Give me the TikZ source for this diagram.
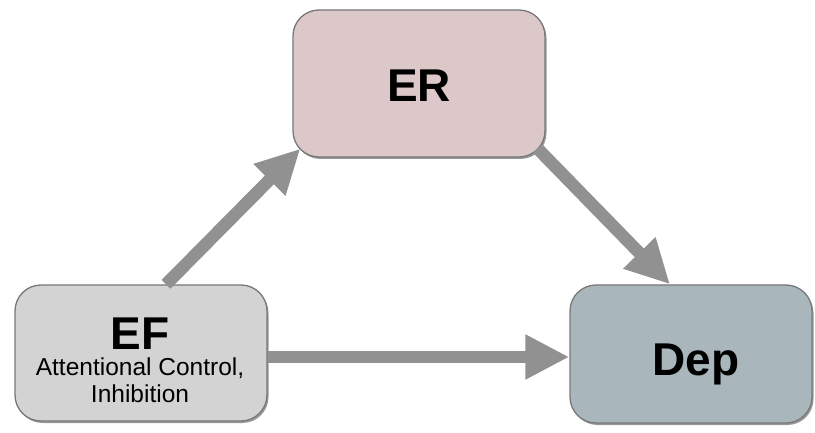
\documentclass[tikz,border=0pt]{standalone}
\usepackage{fontspec}
\setmainfont{Liberation Sans}
\usetikzlibrary{arrows.meta,shadows,calc}
\definecolor{efcol}{RGB}{211,211,211}
\definecolor{ercol}{RGB}{220,199,201}
\definecolor{depcol}{RGB}{169,183,188}
\definecolor{edgecol}{RGB}{120,120,120}
\definecolor{arrcol}{RGB}{145,145,145}
\tikzset{
  box/.style={draw=edgecol, line width=1.3pt, rounded corners=26pt, inner sep=0pt,
    drop shadow={shadow xshift=1.5pt, shadow yshift=-2pt, opacity=0.4, fill=black}},
  big/.style={font=\fontsize{46}{46}\selectfont\bfseries, anchor=base, inner sep=0pt},
  small/.style={font=\fontsize{24.5}{28}\selectfont, anchor=base, inner sep=0pt},
  arr/.style={draw=arrcol, line width=12.5pt, -{Triangle[length=44pt,width=42pt]}, arrcol}
}
\begin{document}
\begin{tikzpicture}[x=1pt,y=-1pt]
\useasboundingbox (0,0) rectangle (815,433);
\node[box, fill=efcol, minimum width=252pt, minimum height=136pt] (ef) at (141,353) {};
\node[box, fill=ercol, minimum width=252pt, minimum height=147pt] (er) at (419,83.5) {};
\node[box, fill=depcol, minimum width=242pt, minimum height=138pt] (dep) at (691,354) {};
\node[big] (eft) at (140,349) {EF};
\node[small] (efs1) at (140,375) {Attentional Control,};
\node[small] (efs2) at (140,402) {Inhibition};
\node[big] (ert) at (419,102) {ER};
\node[big] (dept) at (696,375) {Dep};
\draw[arr] ($(ef.north)+(25,0)$) -- ($(er.south west)+(8,-9)$);
\draw[arr] ($(er.south east)+(-8,-9)$) -- ($(dep.north)+(-21,0)$);
\draw[arr] ($(ef.east)+(0,4)$) -- ($(dep.west)+(0,3)$);
\end{tikzpicture}
\end{document}
